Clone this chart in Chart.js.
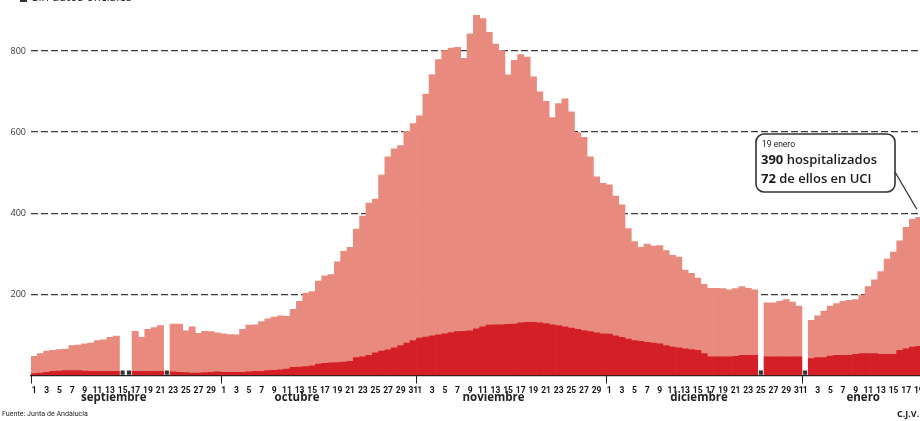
<!DOCTYPE html>
<html>
<head>
<meta charset="utf-8">
<script src="https://cdn.jsdelivr.net/npm/chart.js@4"></script>
<style>
  html, body { margin: 0; padding: 0; background: #fff; overflow: hidden; }
  #wrap { width: 926px; height: 421px; }
</style>
</head>
<body>
<div id="wrap"><canvas id="chart" width="926" height="421"></canvas></div>
<script>
// months shown and how many days of each
var monthNames = ['septiembre', 'octubre', 'noviembre', 'diciembre', 'enero'];
var monthDays = [30, 31, 30, 31, 19];

// total hospitalizados (null = sin datos oficiales)
var hospSep = [47, 54, 60, 62, 64, 65, 74, 75, 78, 80, 86, 88, 94, 97, null, null, 109, 94, 114, 118, 123, null, 127, 127, 110, 120, 104, 109, 108, 105];
var hospOct = [103, 101, 100, 114, 124, 125, 133, 140, 144, 147, 146, 163, 183, 203, 207, 233, 246, 249, 280, 306, 316, 361, 393, 425, 435, 494, 539, 559, 567, 602, 621];
var hospNov = [640, 694, 741, 779, 801, 807, 809, 782, 842, 888, 880, 846, 817, 801, 741, 777, 791, 785, 736, 699, 676, 636, 670, 682, 650, 599, 587, 539, 490, 474];
var hospDic = [470, 442, 421, 362, 330, 316, 324, 319, 320, 308, 296, 292, 260, 252, 240, 225, 215, 215, 214, 211, 214, 219, 215, 211, null, 179, 179, 183, 187, 181, 171];
var hospEne = [null, 136, 147, 159, 171, 177, 183, 185, 187, 198, 219, 236, 256, 287, 304, 332, 365, 385, 390];

// de ellos en UCI
var uciSep = [5, 6, 8, 10, 11, 12, 12, 12, 11, 10, 10, 10, 10, 10, null, null, 10, 10, 10, 10, 10, null, 9, 8, 7, 6, 6, 7, 8, 9];
var uciOct = [8, 8, 8, 8, 9, 10, 10, 12, 13, 14, 16, 20, 21, 22, 24, 28, 30, 31, 32, 33, 35, 44, 46, 50, 56, 60, 63, 68, 74, 80, 86];
var uciNov = [92, 95, 98, 100, 103, 106, 108, 109, 110, 115, 120, 124, 125, 125, 126, 127, 130, 131, 131, 130, 128, 125, 123, 120, 117, 114, 111, 108, 105, 103];
var uciDic = [102, 98, 94, 90, 86, 84, 82, 80, 78, 74, 70, 68, 66, 64, 62, 54, 46, 46, 46, 46, 47, 50, 50, 50, null, 46, 46, 46, 46, 46, 46];
var uciEne = [null, 42, 44, 44, 48, 50, 50, 50, 52, 54, 54, 54, 52, 52, 52, 62, 66, 70, 72];

var yTicks = [200, 400, 600, 800];

var hosp = [].concat(hospSep, hospOct, hospNov, hospDic, hospEne);
var uci = [].concat(uciSep, uciOct, uciNov, uciDic, uciEne);

var labels = [], monthStart = [];
monthDays.forEach(function(n){
    monthStart.push(labels.length);
    for(var d = 1; d <= n; d++){ labels.push(d); }
});
var rest = hosp.map(function(v, i){ return v === null ? null : v - uci[i]; });
var noData = hosp.map(function(v){ return v === null ? 7 : null; });

var FONT = "'Open Sans', 'DejaVu Sans', sans-serif";
var NARROW = "'Liberation Sans Narrow', Roboto, sans-serif";

var extras = {
    id: 'extras',
    afterDraw: function(chart){
        var c = chart.ctx, x = chart.scales.x, y = chart.scales.y, a = chart.chartArea;
        var w = (a.right - a.left) / labels.length;
        c.save();
        // month separators under the axis
        c.strokeStyle = '#222'; c.lineWidth = 1;
        monthStart.forEach(function(i){
            var px = Math.round(x.getPixelForValue(i) - w / 2) + 0.5;
            c.beginPath(); c.moveTo(px, a.bottom); c.lineTo(px, a.bottom + 8); c.stroke();
        });
        // month names
        var at = [12.6, 41.6, 72.7, 105.2, 131.2];
        c.fillStyle = '#222'; c.font = 'bold 11.5px ' + FONT;
        c.textAlign = 'center'; c.textBaseline = 'middle';
        monthNames.forEach(function(m, k){
            c.fillText(m, x.left + (at[k] + 0.5) * w, 398);
        });
        // source and credit
        c.textAlign = 'left'; c.textBaseline = 'alphabetic';
        c.font = '7.5px ' + NARROW; c.fillStyle = '#222';
        c.fillText('Fuente: Junta de Andalucía', 2, 416, 86);
        c.font = 'bold 9px ' + FONT;
        c.fillText('C.J.V.', 897, 417);
        // legend, cut at the top of the picture
        c.fillStyle = '#333'; c.fillRect(20, -3, 7, 5);
        c.font = '12px ' + FONT; c.fillStyle = '#222';
        c.fillText('Sin datos oficiales', 32, 1);
        // callout for the last day
        var last = labels.length - 1;
        var bx = 756, by = 134, bw = 139, bh = 58;
        c.strokeStyle = '#333'; c.lineWidth = 1.3;
        c.beginPath();
        c.moveTo(bx + bw, by + 38);
        c.lineTo(x.getPixelForValue(last) - 2, y.getPixelForValue(hosp[last]) - 8);
        c.stroke();
        c.fillStyle = '#fff'; c.lineWidth = 1.6;
        c.beginPath(); c.roundRect(bx, by, bw, bh, 8); c.fill(); c.stroke();
        c.fillStyle = '#1a1a1a';
        c.font = '8.5px ' + NARROW;
        c.fillText(labels[last] + ' ' + monthNames[monthNames.length - 1], 762, 147);
        c.font = 'bold 13px ' + FONT;
        c.fillText(String(hosp[last]), 761, 164);
        var w1 = c.measureText(String(hosp[last])).width;
        c.font = '600 13px ' + FONT;
        c.fillText(' hospitalizados', 761 + w1, 164, 870 - 761 - w1 + 8);
        c.font = 'bold 13px ' + FONT;
        c.fillText(String(uci[last]), 761, 183);
        var w2 = c.measureText(String(uci[last])).width;
        c.font = '600 13px ' + FONT;
        c.fillText(' de ellos en UCI', 761 + w2, 183);
        c.restore();
    }
};

new Chart(document.getElementById('chart'), {
    type: 'bar',
    data: {
        labels: labels,
        datasets: [{
            type: 'line',
            label: 'Sin datos oficiales',
            data: noData,
            stack: 'marks',
            showLine: false,
            pointStyle: 'rect',
            pointRadius: 2.9,
            pointBackgroundColor: '#333',
            pointBorderColor: '#333',
            pointBorderWidth: 0,
            order: 0
        }, {
            label: 'UCI',
            data: uci,
            stack: 'h',
            backgroundColor: '#d41f26',
            borderWidth: 0,
            barPercentage: 1,
            categoryPercentage: 1,
            order: 1
        }, {
            label: 'Hospitalizados',
            data: rest,
            stack: 'h',
            backgroundColor: '#e98a7f',
            borderWidth: 0,
            barPercentage: 1,
            categoryPercentage: 1,
            order: 1
        }]
    },
    options: {
        responsive: false,
        animation: false,
        layout: { padding: { top: 4.25, left: 0, right: 0, bottom: 0 } },
        plugins: { legend: { display: false }, tooltip: { enabled: false } },
        scales: {
            x: {
                stacked: true,
                afterFit: function(s){ s.height = 45.5; },
                grid: { display: false },
                border: { display: true, color: '#222', width: 1.2 },
                ticks: {
                    autoSkip: false, maxRotation: 0, minRotation: 0, padding: 2,
                    color: '#111',
                    font: { family: NARROW, size: 8.5, weight: 'bold' },
                    callback: function(v, i){ return labels[i] % 2 ? String(labels[i]) : ''; }
                }
            },
            y: {
                stacked: true,
                min: 0, max: 900,
                afterFit: function(s){ s.width = 31; },
                afterBuildTicks: function(s){
                    s.ticks = [0].concat(yTicks).map(function(v){ return { value: v }; });
                },
                grid: {
                    drawTicks: false, lineWidth: 1.3,
                    color: function(ctx){ return ctx.tick && ctx.tick.value === 0 ? 'rgba(0,0,0,0)' : '#3a3a3a'; }
                },
                border: { display: false, dash: [7, 3] },
                ticks: {
                    padding: 5, color: '#333',
                    font: { family: FONT, size: 9 },
                    callback: function(v){ return v === 0 ? '' : v; }
                }
            }
        }
    },
    plugins: [extras]
});
</script>
</body>
</html>
